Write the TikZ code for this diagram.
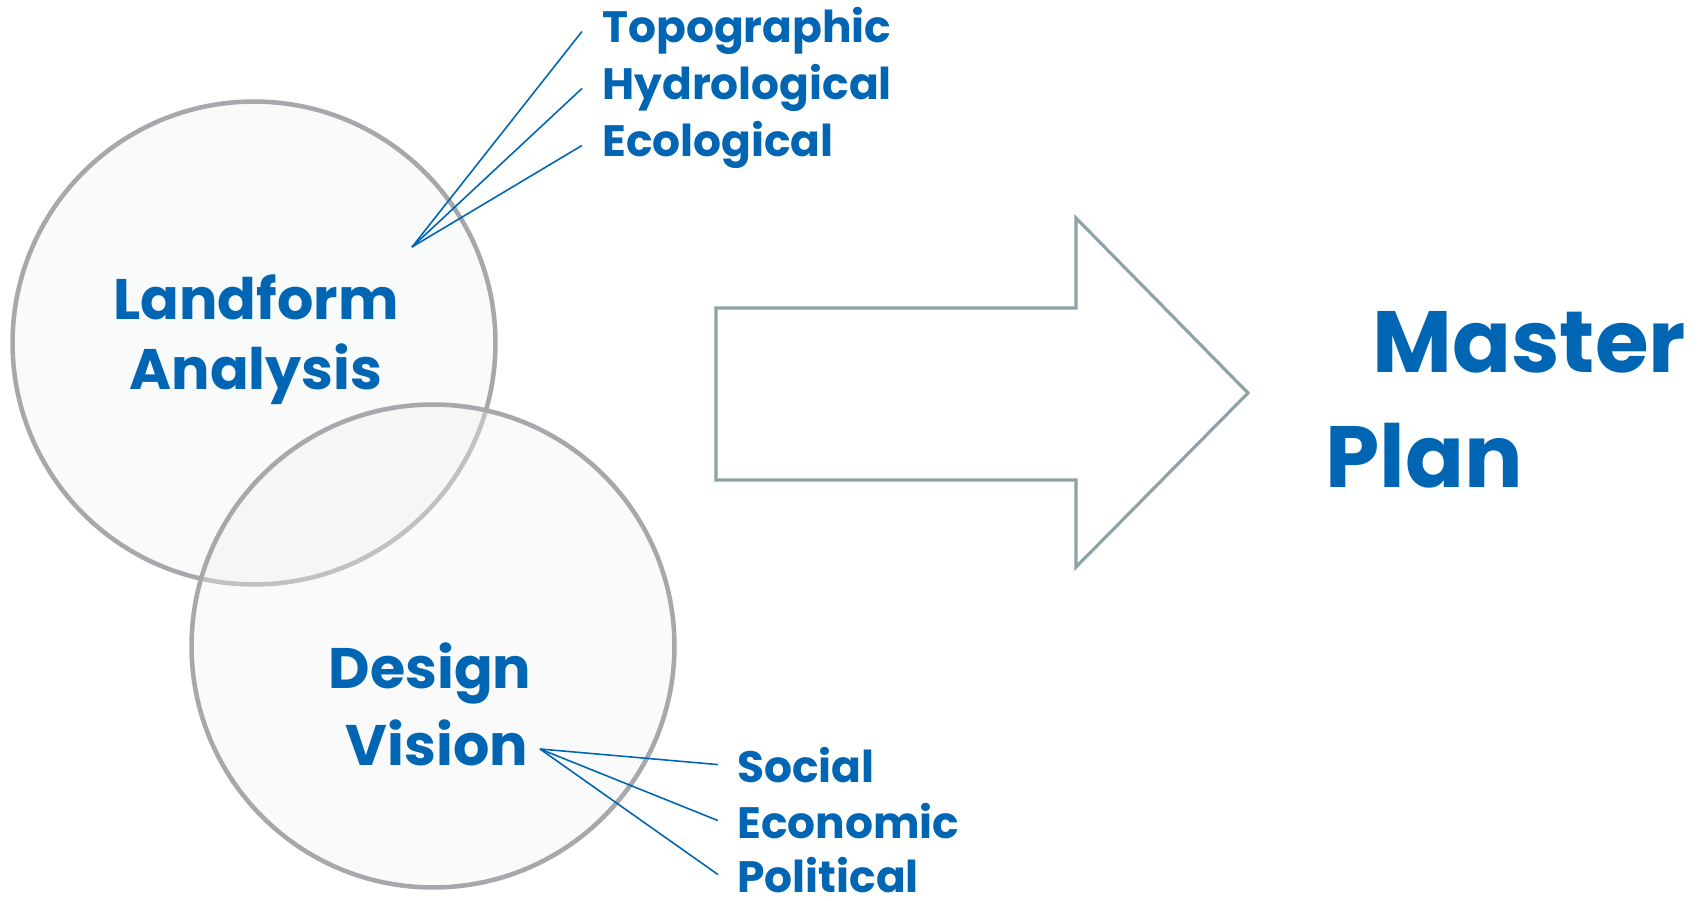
\documentclass[tikz,border=0pt]{standalone}
\usepackage{fontspec}
\setmainfont{Poppins}
\usetikzlibrary{calc}

\definecolor{planblue}{RGB}{0,102,179}
\definecolor{ringgray}{RGB}{166,168,171}
\definecolor{ringfill}{RGB}{249,250,250}
\definecolor{ringshade}{RGB}{240,242,242}
\definecolor{arrowgray}{RGB}{141,163,166}

\tikzset{
  ring/.style={draw=ringgray, line width=2.6pt, fill=ringfill},
  bigword/.style={anchor=base, text=planblue, font=\fontsize{32.5}{36}\selectfont\bfseries, inner sep=0pt},
  factor/.style={anchor=base west, text=planblue, font=\fontsize{25}{30}\selectfont\bfseries, inner sep=0pt},
  leader/.style={draw=planblue, line width=0.9pt},
  planword/.style={anchor=base west, text=planblue, font=\fontsize{49.5}{54}\selectfont\bfseries, inner sep=0pt}
}

\begin{document}
\begin{tikzpicture}[x=0.02cm, y=-0.02cm]
  \useasboundingbox (0,0) rectangle (1699,901);

  % Centres of the two circles
  \coordinate (C1) at (254,343);
  \coordinate (C2) at (433,646);

  % First circle, the second one lies on it and lets it through
  \draw[ring] (C1) circle (4.83cm);
  \draw[ring, fill=ringshade, fill opacity=0.35] (C2) circle (4.83cm);

  \node[bigword] (land) at (256,320) {Landform};
  \node[bigword] (anal) at (256,390) {Analysis};
  \node[bigword] (desi) at (430,688) {Design};
  \node[bigword] (visi) at (437,765) {Vision};

  % Factors of the landform analysis
  \coordinate (lf) at (412,247);
  \node[factor] (topo) at (602,43) {Topographic};
  \node[factor] (hydr) at (602,100) {Hydrological};
  \node[factor] (ecol) at (602,157) {Ecological};
  \draw[leader] (lf) -- ($(topo.west)+(-20,0)$);
  \draw[leader] (lf) -- ($(hydr.west)+(-20,0)$);
  \draw[leader] (lf) -- ($(ecol.west)+(-20,0)$);

  % Factors of the design vision
  \coordinate (dv) at (540,749);
  \node[factor] (soci) at (737,782) {Social};
  \node[factor] (econ) at (737,838) {Economic};
  \node[factor] (poli) at (737,892) {Political};
  \draw[leader] (dv) -- ($(soci.west)+(-19,0)$);
  \draw[leader] (dv) -- ($(econ.west)+(-19,0)$);
  \draw[leader] (dv) -- ($(poli.west)+(-19,0)$);

  % Big hollow arrow
  \draw[draw=arrowgray, line width=1.8pt, line join=miter]
    (716,308) -- (1076,308) -- (1076,218) -- (1248,393)
    -- (1076,567) -- (1076,480) -- (716,480) -- cycle;

  \node[planword] (mast) at (1372,373) {Master};
  \node[planword] (plan) at (1325,488) {Plan};
\end{tikzpicture}
\end{document}
